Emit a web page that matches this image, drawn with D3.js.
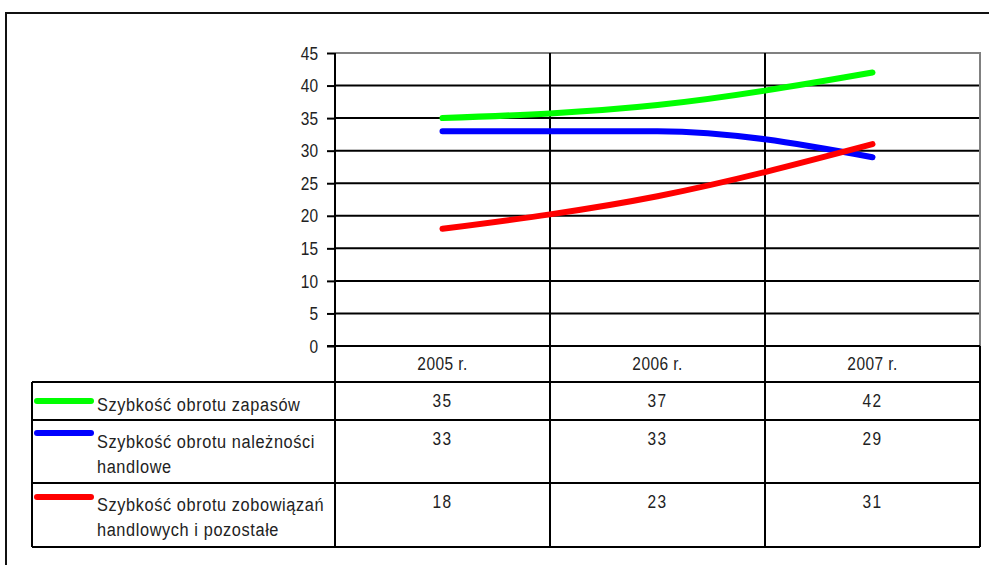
<!DOCTYPE html>
<html>
<head>
<meta charset="utf-8">
<script src="https://cdn.jsdelivr.net/npm/d3@7"></script>
<style>
  html, body { margin: 0; padding: 0; background: #fff; }
  svg text { font-family: "Liberation Sans Narrow", "Arial Narrow", "Liberation Sans", Arial, sans-serif; fill: #222; }
</style>
</head>
<body>
<svg id="chart" width="989" height="565"></svg>
<script>
// Turnover ratios by year
const years = ["2005 r.", "2006 r.", "2007 r."];
const yTicks = [0, 5, 10, 15, 20, 25, 30, 35, 40, 45];
const seriesNames = [
  ["Szybkość obrotu zapasów"],
  ["Szybkość obrotu należności", "handlowe"],
  ["Szybkość obrotu zobowiązań", "handlowych i pozostałe"]
];
const seriesColors = ["#00ff00", "#0000ff", "#ff0000"];
const inventory = [35, 37, 42];
const receivables = [33, 33, 29];
const payables = [18, 23, 31];
const seriesValues = [inventory, receivables, payables];

const svg = d3.select("#chart");

// Condensed look: regular sans squeezed horizontally
const SX = 0.86;
function label(g, px, py, txt, size, anchor, spacing) {
  return g.append("text")
    .attr("transform", `translate(${px},${py}) scale(${SX},1)`)
    .attr("text-anchor", anchor || "start")
    .attr("font-size", size)
    .attr("letter-spacing", spacing || 0)
    .text(txt);
}

// Layout
const plotL = 335, plotR = 980, plotT = 53, plotB = 346;
const tableL = 32;
const rowEdges = [346, 382, 420, 483, 547];

const x = d3.scaleBand().domain(years).range([plotL, plotR]);
const y = d3.scaleLinear().domain([0, 45]).range([plotB, plotT]);

// Outer frame
svg.append("rect").attr("x", 6).attr("y", 13).attr("width", 1000).attr("height", 600)
  .attr("fill", "none").attr("stroke", "#111").attr("stroke-width", 2);

// Gridlines
svg.append("g").selectAll("line").data(yTicks.filter(d => d > 0 && d < 45)).join("line")
  .attr("x1", plotL).attr("x2", plotR)
  .attr("y1", d => y(d)).attr("y2", d => y(d))
  .attr("stroke", "#000").attr("stroke-width", 2);

// Plot border (top and right)
svg.append("path")
  .attr("d", `M${plotL},${y(45)}H${plotR}V${plotB}`)
  .attr("fill", "none").attr("stroke", "#808080").attr("stroke-width", 2);

// Category dividers through the plot and table
svg.append("g").selectAll("line").data(years.slice(1)).join("line")
  .attr("x1", d => x(d)).attr("x2", d => x(d))
  .attr("y1", plotT).attr("y2", rowEdges[4])
  .attr("stroke", "#000").attr("stroke-width", 2);

// Y axis
const yAxis = d3.axisLeft(y).tickValues(yTicks).tickSize(8).tickPadding(0);
const ya = svg.append("g").attr("transform", `translate(${plotL},0)`).call(yAxis);
ya.select(".domain").remove();
ya.selectAll(".tick line").attr("stroke", "#000").attr("stroke-width", 2);
ya.selectAll(".tick text")
  .attr("font-size", 18).attr("fill", "#222")
  .attr("x", -17 / SX).attr("dy", "0.34em")
  .attr("transform", `scale(${SX},1)`)
  .style("font-family", "\"Liberation Sans Narrow\", \"Arial Narrow\", \"Liberation Sans\", sans-serif");
svg.append("line").attr("x1", plotL).attr("x2", plotL).attr("y1", plotT).attr("y2", rowEdges[4])
  .attr("stroke", "#000").attr("stroke-width", 2);
svg.append("line").attr("x1", plotL - 8).attr("x2", plotR).attr("y1", plotB).attr("y2", plotB)
  .attr("stroke", "#000").attr("stroke-width", 2);

// Data table
const table = svg.append("g");
rowEdges.slice(1).forEach(r => {
  table.append("line").attr("x1", tableL).attr("x2", plotR).attr("y1", r).attr("y2", r)
    .attr("stroke", "#000").attr("stroke-width", 2);
});
table.append("line").attr("x1", tableL).attr("x2", tableL).attr("y1", rowEdges[1]).attr("y2", rowEdges[4])
  .attr("stroke", "#000").attr("stroke-width", 2);
table.append("line").attr("x1", plotR).attr("x2", plotR).attr("y1", plotB).attr("y2", rowEdges[4])
  .attr("stroke", "#000").attr("stroke-width", 2);

// Category labels
years.forEach(c => label(table, x(c) + x.bandwidth() / 2, 370, c, 18, "middle", 0.5));

// Series rows: legend key, name, values
const nameTop = [404, 441, 504];
const keyY = [401, 433, 497];
seriesValues.forEach((vals, i) => {
  table.append("line").attr("x1", 37).attr("x2", 91).attr("y1", keyY[i]).attr("y2", keyY[i])
    .attr("stroke", seriesColors[i]).attr("stroke-width", 6).attr("stroke-linecap", "round");
  seriesNames[i].forEach((t, k) => {
    label(table, 97, nameTop[i] + 7 + k * 25, t, 19, "start", 0.7);
  });
  vals.forEach((v, j) => {
    label(table, x(years[j]) + x.bandwidth() / 2, rowEdges[i + 1] + 25, String(v), 18, "middle", 1.5);
  });
});

// Series lines
const line = d3.line()
  .x((d, j) => x(years[j]) + x.bandwidth() / 2)
  .y(d => y(d))
  .curve(d3.curveMonotoneX);
svg.append("g").selectAll("path").data(seriesValues).join("path")
  .attr("d", d => line(d))
  .attr("fill", "none")
  .attr("stroke", (d, i) => seriesColors[i])
  .attr("stroke-width", 6)
  .attr("stroke-linecap", "round")
  .attr("stroke-linejoin", "round");
</script>
</body>
</html>
